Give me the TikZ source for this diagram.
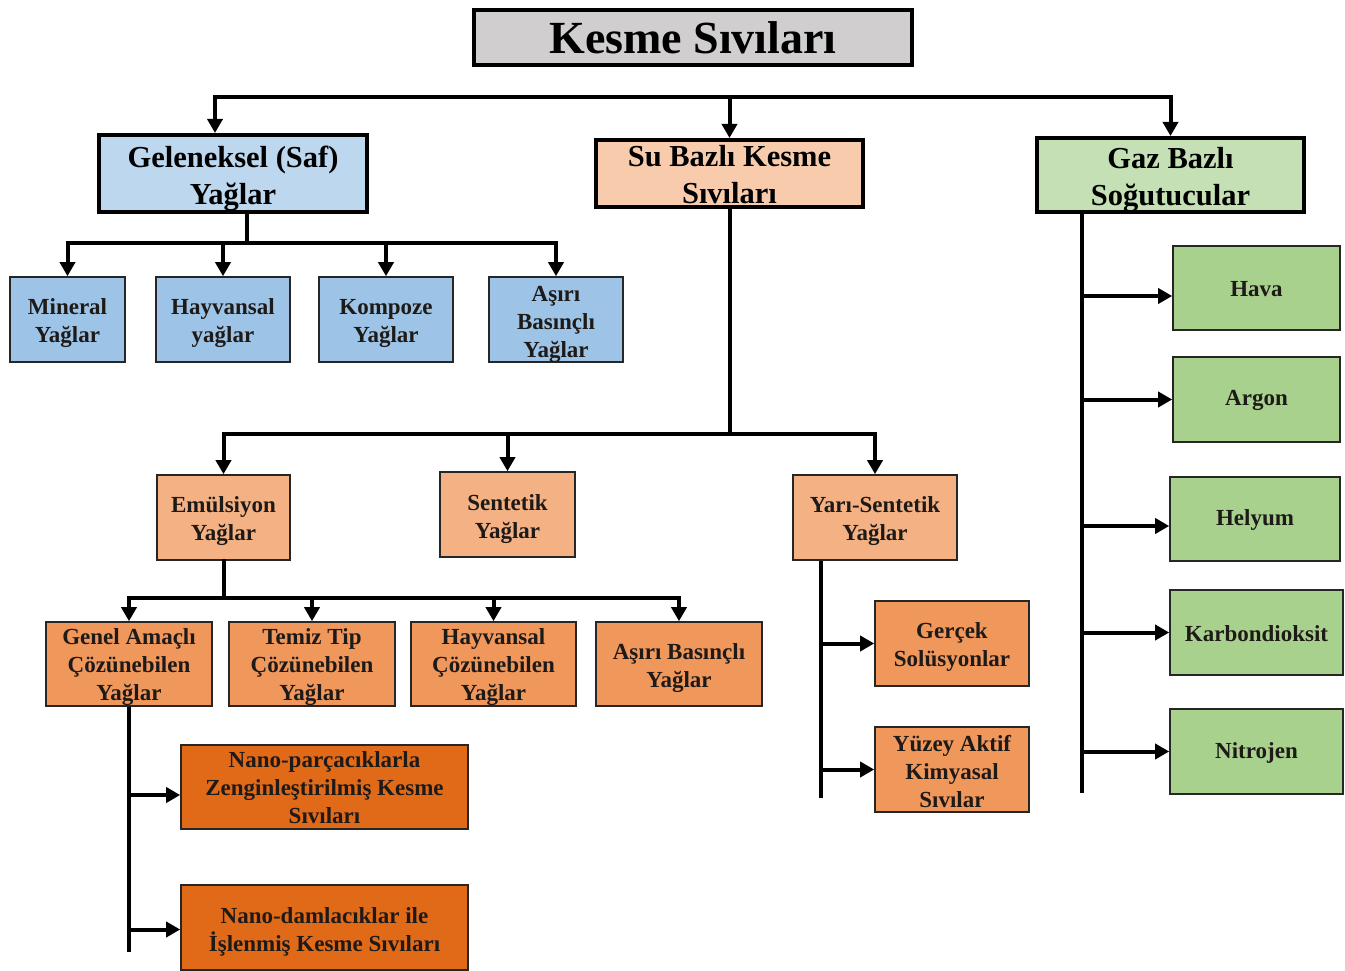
\documentclass[tikz,border=0pt]{standalone}
\usepackage{fontspec}
\setmainfont{Liberation Serif}
\usetikzlibrary{arrows.meta}
\definecolor{titlegray}{HTML}{D0CECE}
\definecolor{lblue}{HTML}{BDD7EE}
\definecolor{mblue}{HTML}{9DC3E6}
\definecolor{lpeach}{HTML}{F8CBAD}
\definecolor{lorange}{HTML}{F4B183}
\definecolor{morange}{HTML}{F0975C}
\definecolor{dorange}{HTML}{E06A18}
\definecolor{lgreen}{HTML}{C5E0B4}
\definecolor{mgreen}{HTML}{A9D18E}
\definecolor{txt}{HTML}{1E1A18}
\tikzset{
  box/.style={rectangle, inner sep=0pt},
  tx/.style={inner sep=0pt, align=center, text=txt, font=\bfseries\fontsize{23}{28}\selectfont},
  ttx/.style={inner sep=0pt, align=center, text=black, font=\bfseries\fontsize{30.5}{37}\selectfont},
  topbox/.style={box, draw=black, line width=4pt},
  leaf/.style={box, draw=black!85, line width=1.6pt},
  ln/.style={line width=4pt, draw=black, line cap=rect},
  arr/.style={line width=4pt, draw=black, -{Triangle[length=14pt,width=15pt]}}
}
\begin{document}
\begin{tikzpicture}[x=1pt,y=-1pt]
\useasboundingbox[fill=white] (0,0) rectangle (1345,971);
% title
\node[box, draw=black, line width=4pt, fill=titlegray, text=black, minimum width=438pt, minimum height=55pt,
  font=\bfseries\fontsize{46}{52}\selectfont] (title) at (693,37.5) {Kesme Sıvıları};
% level 1
\node[topbox, fill=lblue, minimum width=268pt, minimum height=77pt,
  label={[ttx,yshift=-5pt]center:Geleneksel (Saf)\\Yağlar}] (gel) at (233,173.5) {};
\node[topbox, fill=lpeach, minimum width=267pt, minimum height=67pt,
  label={[ttx,yshift=-1.5pt]center:Su Bazlı Kesme\\Sıvıları}] (su) at (729.5,173.5) {};
\node[topbox, fill=lgreen, minimum width=267pt, minimum height=74pt,
  label={[ttx,yshift=-5pt]center:Gaz Bazlı\\Soğutucular}] (gaz) at (1170.5,175) {};
% geleneksel children
\node[leaf, fill=mblue, minimum width=115pt, minimum height=85pt,
  label={[tx,yshift=-4pt]center:Mineral\\Yağlar}] (min) at (67.5,319.5) {};
\node[leaf, fill=mblue, minimum width=134pt, minimum height=85pt,
  label={[tx,yshift=-4pt]center:Hayvansal\\yağlar}] (hay) at (223,319.5) {};
\node[leaf, fill=mblue, minimum width=134pt, minimum height=85pt,
  label={[tx,yshift=-4pt]center:Kompoze\\Yağlar}] (kom) at (386,319.5) {};
\node[leaf, fill=mblue, minimum width=134pt, minimum height=85pt,
  label={[tx,yshift=-5pt]center:Aşırı\\Basınçlı\\Yağlar}] (asiri) at (556,319.5) {};
% su children
\node[leaf, fill=lorange, minimum width=133pt, minimum height=85pt,
  label={[tx,yshift=-4pt]center:Emülsiyon\\Yağlar}] (emu) at (223.5,517.5) {};
\node[leaf, fill=lorange, minimum width=135pt, minimum height=85pt,
  label={[tx,yshift=-5pt]center:Sentetik\\Yağlar}] (sen) at (507.5,514.5) {};
\node[leaf, fill=lorange, minimum width=164pt, minimum height=85pt,
  label={[tx,yshift=-4pt]center:Yarı-Sentetik\\Yağlar}] (yari) at (875,517.5) {};
% emulsiyon children
\node[leaf, fill=morange, minimum width=166pt, minimum height=84pt,
  label={[tx,yshift=-3pt]center:Genel Amaçlı\\Çözünebilen\\Yağlar}] (genel) at (129,664) {};
\node[leaf, fill=morange, minimum width=166pt, minimum height=84pt,
  label={[tx,yshift=-3pt]center:Temiz Tip\\Çözünebilen\\Yağlar}] (temiz) at (312,664) {};
\node[leaf, fill=morange, minimum width=165pt, minimum height=84pt,
  label={[tx,yshift=-3pt]center:Hayvansal\\Çözünebilen\\Yağlar}] (hayc) at (493.5,664) {};
\node[leaf, fill=morange, minimum width=166pt, minimum height=84pt,
  label={[tx,yshift=-4pt]center:Aşırı Basınçlı\\Yağlar}] (asb) at (679,664) {};
% nano
\node[leaf, fill=dorange, minimum width=287pt, minimum height=84pt,
  label={[tx,yshift=-1pt]center:Nano-parçacıklarla\\Zenginleştirilmiş Kesme\\Sıvıları}] (nano1) at (324.5,787) {};
\node[leaf, fill=dorange, minimum width=287pt, minimum height=85pt,
  label={[tx,yshift=-4pt]center:Nano-damlacıklar ile\\İşlenmiş Kesme Sıvıları}] (nano2) at (324.5,927.5) {};
% yari children
\node[leaf, fill=morange, minimum width=154pt, minimum height=85pt,
  label={[tx,yshift=-3pt]center:Gerçek\\Solüsyonlar}] (gercek) at (952,643.5) {};
\node[leaf, fill=morange, minimum width=154pt, minimum height=85pt,
  label={[tx,yshift=-2pt]center:Yüzey Aktif\\Kimyasal\\Sıvılar}] (yuzey) at (952,769.5) {};
% gas children
\node[leaf, fill=mgreen, minimum width=167pt, minimum height=84pt,
  label={[tx,yshift=-1pt]center:Hava}] (hava) at (1256.5,288) {};
\node[leaf, fill=mgreen, minimum width=167pt, minimum height=85pt,
  label={[tx,yshift=-1pt]center:Argon}] (argon) at (1256.5,399.5) {};
\node[leaf, fill=mgreen, minimum width=170pt, minimum height=84pt,
  label={[tx,yshift=-1pt]center:Helyum}] (helyum) at (1255,519) {};
\node[leaf, fill=mgreen, minimum width=173pt, minimum height=85pt,
  label={[tx,yshift=-1pt]center:Karbondioksit}] (karbon) at (1256.5,632.5) {};
\node[leaf, fill=mgreen, minimum width=173pt, minimum height=85pt,
  label={[tx,yshift=-1pt]center:Nitrojen}] (nitro) at (1256.5,751.5) {};

% top bus
\coordinate (busA) at (0,97);
\coordinate (gelIn) at ([xshift=-18pt]gel.north);
\draw[ln] (gelIn |- busA) -- (gaz.north |- busA);
\draw[arr] (gelIn |- busA) -- (gelIn);
\draw[arr] (su.north |- busA) -- (su.north);
\draw[arr] (gaz.north |- busA) -- (gaz.north);

% geleneksel bus
\coordinate (busB) at (0,243);
\coordinate (gelOut) at ([xshift=14pt]gel.south);
\draw[ln] (gelOut) -- (gelOut |- busB);
\draw[ln] (min.north |- busB) -- (asiri.north |- busB);
\foreach \n in {min,hay,kom,asiri} \draw[arr] (\n.north |- busB) -- (\n.north);

% su bus
\coordinate (busC) at (0,434);
\draw[ln] (su.south) -- (su.south |- busC);
\draw[ln] (emu.north |- busC) -- (yari.north |- busC);
\foreach \n in {emu,sen,yari} \draw[arr] (\n.north |- busC) -- (\n.north);

% emulsiyon bus
\coordinate (busD) at (0,598);
\draw[ln] (emu.south) -- (emu.south |- busD);
\draw[ln] (genel.north |- busD) -- (asb.north |- busD);
\foreach \n in {genel,temiz,hayc,asb} \draw[arr] (\n.north |- busD) -- (\n.north);

% genel amacli stem
\coordinate (gEnd) at (129,952);
\draw[line width=4pt] (genel.south) -- (gEnd);
\coordinate (n1in) at ([yshift=-8pt]nano1.west);
\draw[arr] (genel.south |- n1in) -- (n1in);
\coordinate (n2in) at ([yshift=-2pt]nano2.west);
\draw[arr] (genel.south |- n2in) -- (n2in);

% yari-sentetik stem
\coordinate (yOut) at ([xshift=-54pt]yari.south);
\coordinate (yEnd) at (821,798);
\draw[line width=4pt] (yOut) -- (yEnd);
\draw[arr] (yOut |- gercek.west) -- (gercek.west);
\draw[arr] (yOut |- yuzey.west) -- (yuzey.west);

% gas stem
\coordinate (gzOut) at ([xshift=-89pt]gaz.south);
\coordinate (gzEnd) at (1081.5,793);
\draw[line width=4pt] (gzOut) -- (gzEnd);
\coordinate (haIn) at ([yshift=-8pt]hava.west);
\coordinate (heIn) at ([yshift=-7pt]helyum.west);
\draw[arr] (gzOut |- haIn) -- (haIn);
\draw[arr] (gzOut |- argon.west) -- (argon.west);
\draw[arr] (gzOut |- heIn) -- (heIn);
\draw[arr] (gzOut |- karbon.west) -- (karbon.west);
\draw[arr] (gzOut |- nitro.west) -- (nitro.west);
\end{tikzpicture}
\end{document}
